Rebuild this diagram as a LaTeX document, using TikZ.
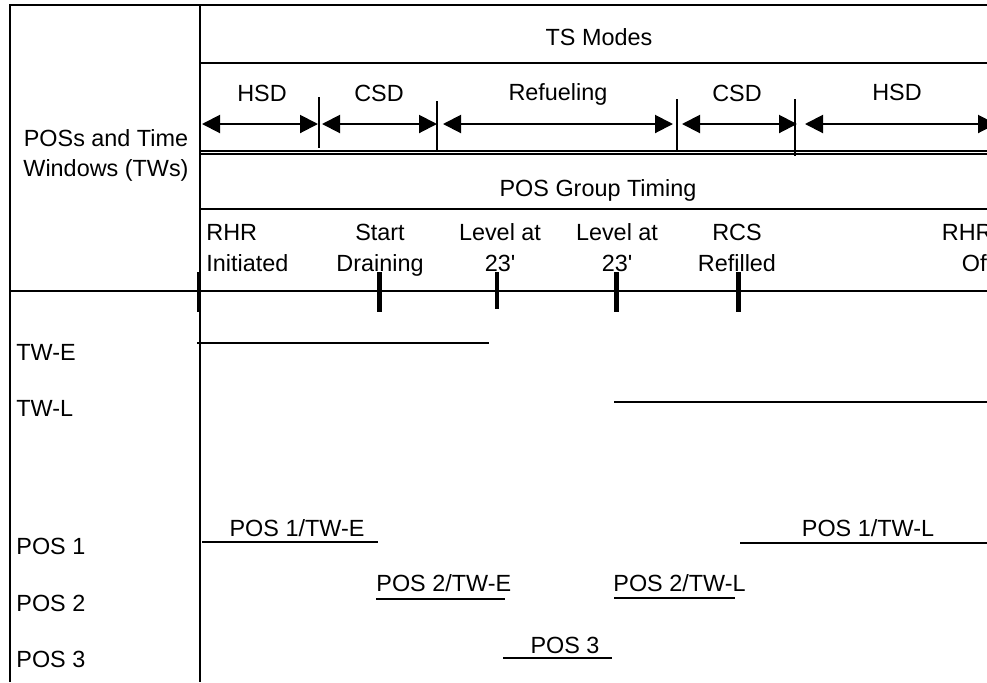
\documentclass[tikz,border=0pt]{standalone}
\usepackage{fontspec}
\setmainfont{Liberation Sans}
\usetikzlibrary{arrows.meta, positioning}

\begin{document}
\begin{tikzpicture}[x=0.5pt, y=-0.5pt,
        every node/.style={font=\fontsize{11.7}{15.8}\selectfont, inner sep=0pt},
        rule/.style={line width=1pt},
        bar/.style={line width=1pt},
        thinbar/.style={line width=0.6pt},
        eventmark/.style={line width=2.5pt},
        modespan/.style={{Triangle[length=9pt,width=9pt]}-{Triangle[length=9pt,width=9pt]}, line width=1pt}]
    \useasboundingbox (0,0) rectangle (987,682);
    \clip (0,0) rectangle (987,682);

    % frame
    \draw[rule] (10,682) -- (10,5) -- (987,5);
    \draw[rule] (200,5) -- (200,682);
    \draw[rule] (200,62.7) -- (987,62.7);
    \draw[rule] (200,150.7) -- (987,150.7);
    \draw[rule] (200,154.3) -- (987,154.3);
    \draw[rule] (200,209) -- (987,209);
    \draw[rule] (10,290.7) -- (987,290.7);

    \node[anchor=base, align=center, font=\fontsize{11.7}{14.6}\selectfont] (head) at (106,176) {POSs and Time\\Windows (TWs)};
    \node[anchor=base] (modes) at (599,45.7) {TS Modes};
    \node[anchor=base] (timing) at (598,196.7) {POS Group Timing};

    % TS modes
    \coordinate (m0) at (202,124);
    \coordinate (m1) at (319,124);
    \coordinate (m2) at (437,124);
    \coordinate (m3) at (677,124);
    \coordinate (m4) at (795,124);
    \coordinate (m5) at (996,124);
    \draw[rule] (319,97) -- (319,148);
    \draw[rule] (437,101) -- (437,150);
    \draw[rule] (677,99) -- (677,150);
    \draw[rule] (795,99) -- (795,156);
    \draw[modespan] (m0) -- ([xshift=-0.5pt]m1);
    \draw[modespan] ([xshift=1.5pt]m1) -- (m2);
    \draw[modespan] ([xshift=3pt]m2) -- ([xshift=-2pt]m3);
    \draw[modespan] ([xshift=2.5pt]m3) -- ([xshift=1pt]m4);
    \draw[modespan] ([xshift=5pt]m4) -- (m5);
    \node[anchor=base] (hsd1) at (262,101.7) {HSD};
    \node[anchor=base] (csd1) at (379,101.7) {CSD};
    \node[anchor=base] (refuel) at (558,100) {Refueling};
    \node[anchor=base] (csd2) at (737,101.7) {CSD};
    \node[anchor=base] (hsd2) at (897,100) {HSD};

    % POS group timing events
    \node[anchor=base west, align=left] (ev1) at (206,271.7) {RHR\\Initiated};
    \node[anchor=base, align=center] (ev2) at (380,271.7) {Start\\Draining};
    \node[anchor=base, align=center] (ev3) at (500,271.7) {Level at\\23\textquotesingle};
    \node[anchor=base, align=center] (ev4) at (617,271.7) {Level at\\23\textquotesingle};
    \node[anchor=base, align=center] (ev5) at (737,271.7) {RCS\\Refilled};
    \node[anchor=base east, align=right] (ev6) at (993,271.7) {RHR\\Off};
    \draw[line width=2pt] (199,272) -- (199,312);
    \draw[eventmark] (379,272) -- (379,312);
    \draw[line width=1.6pt] (497,272) -- (497,309);
    \draw[eventmark] (616,272) -- (616,312);
    \draw[eventmark] (738,272) -- (738,312);

    % rows
    \node[anchor=base west] (twe) at (16,360) {TW-E};
    \node[anchor=base west] (twl) at (16,416.7) {TW-L};
    \node[anchor=base west] (pos1) at (16,554) {POS 1};
    \node[anchor=base west] (pos2) at (16,611.7) {POS 2};
    \node[anchor=base west] (pos3) at (16,667.7) {POS 3};

    \draw[bar] (197,343) -- (489,343);
    \draw[bar] (614,402) -- (987,402);

    \node[anchor=base] (p1e) at (297,536) {POS 1/TW-E};
    \draw[bar] (202,542) -- (378,542);
    \node[anchor=base] (p1l) at (868,536) {POS 1/TW-L};
    \draw[bar] (740,543) -- (987,543);
    \node[anchor=base west] (p2e) at (376,591.7) {POS 2/TW-E};
    \draw[line width=0.8pt] (376,599) -- (505,599);
    \node[anchor=base west] (p2l) at (613,591.7) {POS 2/TW-L};
    \draw[thinbar] (614,598) -- (735,598);
    \node[anchor=base] (p3) at (565,653) {POS 3};
    \draw[thinbar] (503,658) -- (612,658);
\end{tikzpicture}
\end{document}
